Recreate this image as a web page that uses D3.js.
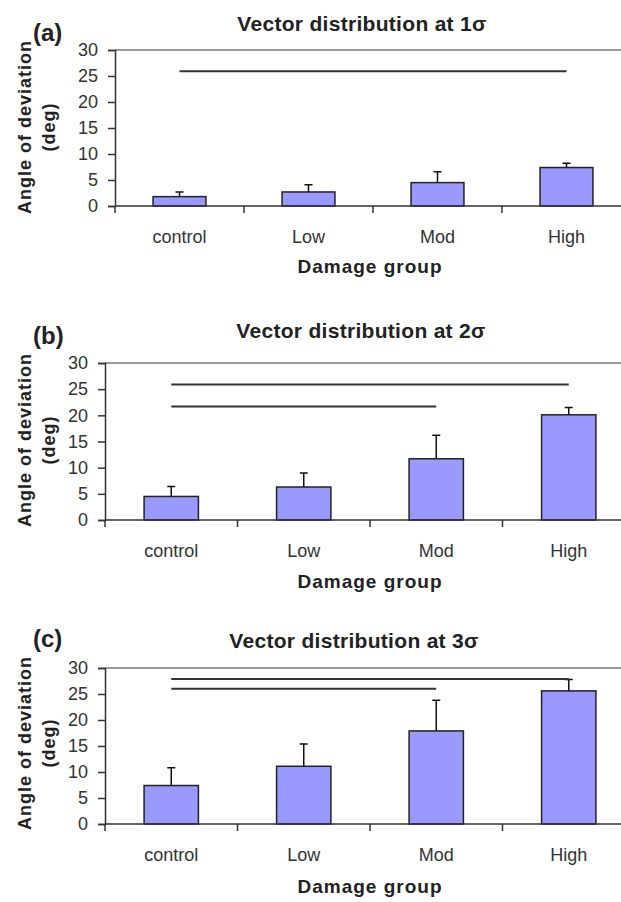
<!DOCTYPE html>
<meta charset="utf-8">
<html>
<head>
<script src="https://d3js.org/d3.v7.min.js"></script>
<style>
    body {
        margin: 0;
        background: #fff;
        font-family: "Liberation Sans", Arial, sans-serif;
    }
    svg text { fill: #222; }
    .tick-label { font-size: 18px; fill: #333; }
    .title { font-size: 21px; font-weight: bold; letter-spacing: 0.3px; }
    .axis-title { font-size: 19px; font-weight: bold; letter-spacing: 1px; }
    .ylab { font-size: 18px; font-weight: bold; letter-spacing: 1px; }
    .panel-tag { font-size: 24px; font-weight: bold; }
</style>
</head>
<body>
<svg id="chart"></svg>
<script>

var width = 621
var height = 902

// data
var groups = ["control", "Low", "Mod", "High"]
var yTicks = [0, 5, 10, 15, 20, 25, 30]

var mean1 = [1.8, 2.7, 4.5, 7.4]
var err1 = [0.9, 1.4, 2.1, 0.8]
var mean2 = [4.5, 6.3, 11.7, 20.1]
var err2 = [1.9, 2.7, 4.5, 1.4]
var mean3 = [7.4, 11.1, 17.9, 25.6]
var err3 = [3.4, 4.3, 5.9, 2.2]

// significance bars: [from group, to group, height]
var sig1 = [["control", "High", 25.9]]
var sig2 = [["control", "High", 25.9], ["control", "Mod", 21.7]]
var sig3 = [["control", "High", 27.9], ["control", "Mod", 26.0]]

var tags = ["(a)", "(b)", "(c)"]
var titles = ["Vector distribution at 1σ", "Vector distribution at 2σ", "Vector distribution at 3σ"]

// panel geometry
var panels = [
    {tag: tags[0], title: titles[0], mean: mean1, err: err1, sig: sig1,
     left: 115, step: 129, top: 50, bottom: 206, tagY: 41, titleX: 362, titleY: 31, catY: 243, xlabY: 273, ylabY: 127},
    {tag: tags[1], title: titles[1], mean: mean2, err: err2, sig: sig2,
     left: 105, step: 132.5, top: 363, bottom: 520, tagY: 344, titleX: 361, titleY: 338, catY: 557, xlabY: 588, ylabY: 440},
    {tag: tags[2], title: titles[2], mean: mean3, err: err3, sig: sig3,
     left: 105, step: 132.5, top: 668, bottom: 824, tagY: 647, titleX: 354, titleY: 648, catY: 861, xlabY: 893, ylabY: 743}
]

var svg = d3.select("#chart")
    .attr("width", width)
    .attr("height", height)

panels.forEach(function(p) {
    var g = svg.append("g")

    var x = d3.scaleBand()
        .domain(groups)
        .range([p.left, p.left + groups.length * p.step])
        .padding(0)
    var y = d3.scaleLinear()
        .domain([0, 30])
        .range([p.bottom, p.top])

    var barW = x.bandwidth() * 0.41
    var cx = d => x(d) + x.bandwidth() / 2

    // top frame line at 30
    g.append("line")
        .attr("x1", p.left).attr("x2", width)
        .attr("y1", y(30)).attr("y2", y(30))
        .attr("stroke", "#999").attr("stroke-width", 2)

    // y axis
    var yAxis = d3.axisLeft(y).tickValues(yTicks).tickSize(7).tickPadding(10)
    var ya = g.append("g")
        .attr("transform", "translate(" + p.left + ",0)")
        .call(yAxis)
    ya.select(".domain").attr("stroke", "#333").attr("stroke-width", 1.5)
    ya.selectAll(".tick line").attr("stroke", "#333").attr("stroke-width", 1.5)
    ya.selectAll(".tick text").attr("class", "tick-label").attr("font-size", null).attr("font-family", null)

    // bars
    g.selectAll(".bar")
        .data(groups)
        .enter()
        .append("rect")
        .attr("x", d => cx(d) - barW / 2)
        .attr("y", (d, i) => y(p.mean[i]))
        .attr("width", barW)
        .attr("height", (d, i) => y(0) - y(p.mean[i]))
        .attr("fill", "#9999ff")
        .attr("stroke", "#222")
        .attr("stroke-width", 1.5)

    // error bars (upper only)
    g.selectAll(".err")
        .data(groups)
        .enter()
        .append("path")
        .attr("d", function(d, i) {
            var top = y(p.mean[i] + p.err[i])
            return "M" + cx(d) + "," + y(p.mean[i]) + "V" + top +
                   "M" + (cx(d) - 4) + "," + top + "H" + (cx(d) + 4)
        })
        .attr("stroke", "#111")
        .attr("stroke-width", 1.5)
        .attr("fill", "none")

    // significance lines
    g.selectAll(".sig")
        .data(p.sig)
        .enter()
        .append("line")
        .attr("x1", d => cx(d[0]))
        .attr("x2", d => cx(d[1]))
        .attr("y1", d => y(d[2]))
        .attr("y2", d => y(d[2]))
        .attr("stroke", "#333")
        .attr("stroke-width", 2)

    // x axis
    var xa = g.append("g")
        .attr("transform", "translate(0," + p.bottom + ")")
    xa.append("line")
        .attr("x1", p.left).attr("x2", width)
        .attr("stroke", "#333").attr("stroke-width", 1.5)
    xa.selectAll(".xtick")
        .data(groups)
        .enter()
        .append("line")
        .attr("x1", d => x(d)).attr("x2", d => x(d))
        .attr("y1", 0).attr("y2", 7)
        .attr("stroke", "#333").attr("stroke-width", 1.5)

    g.selectAll(".cat")
        .data(groups)
        .enter()
        .append("text")
        .attr("class", "tick-label")
        .attr("x", d => cx(d))
        .attr("y", p.catY)
        .attr("text-anchor", "middle")
        .text(d => d)

    // titles
    g.append("text")
        .attr("class", "title")
        .attr("x", p.titleX)
        .attr("y", p.titleY)
        .attr("text-anchor", "middle")
        .text(p.title)

    g.append("text")
        .attr("class", "panel-tag")
        .attr("x", 33)
        .attr("y", p.tagY)
        .text(p.tag)

    g.append("text")
        .attr("class", "axis-title")
        .attr("x", 370)
        .attr("y", p.xlabY)
        .attr("text-anchor", "middle")
        .text("Damage group")

    var yl = g.append("text")
        .attr("class", "ylab")
        .attr("text-anchor", "middle")
        .attr("transform", "translate(31," + p.ylabY + ") rotate(-90)")
    yl.append("tspan").attr("x", 0).attr("y", 0).text("Angle of deviation")
    yl.append("tspan").attr("x", 0).attr("y", 24).text("(deg)")
})
</script>
</body>
</html>
